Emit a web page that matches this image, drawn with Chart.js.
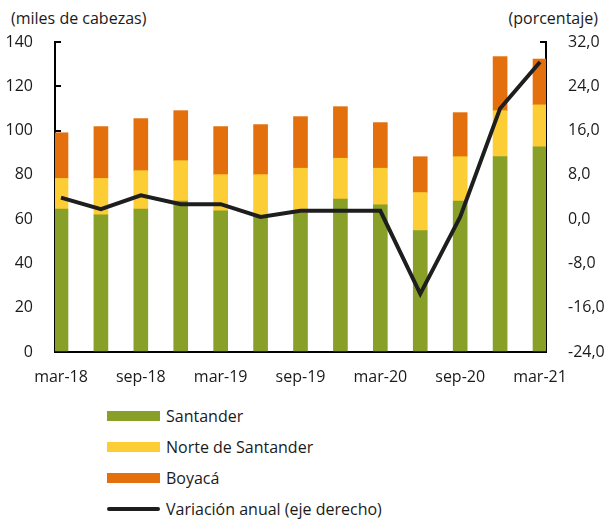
<!DOCTYPE html>
<html>
<head>
<meta charset="utf-8">
<script src="https://cdn.jsdelivr.net/npm/chart.js@4/dist/chart.umd.min.js"></script>
<style>
body{margin:0;background:#fff;font-family:"Open Sans",sans-serif;color:#1a1a1a;}
#wrap{position:relative;width:609px;height:519px;}
#caja{position:absolute;left:0;top:0;width:609px;height:395px;}
.unidad{position:absolute;top:8px;font-size:16px;line-height:20px;}
#leyenda{position:absolute;left:107px;top:400px;}
.item{height:31px;display:flex;align-items:center;font-size:16px;}
.muestra{width:53px;height:10px;margin-right:6px;}
.muestra.linea{height:4px;border-radius:2px;}
</style>
</head>
<body>
<div id="wrap">
  <div class="unidad" style="left:11px">(miles de cabezas)</div>
  <div class="unidad" style="right:11px">(porcentaje)</div>
  <div id="caja"><canvas id="grafico"></canvas></div>
  <div id="leyenda"></div>
</div>
<script>
/* datos (trimestres mar-18 a mar-21) */
const trimestres = ["mar-18","jun-18","sep-18","dic-18","mar-19","jun-19","sep-19","dic-19","mar-20","jun-20","sep-20","dic-20","mar-21"];
const santander = [64.6,61.9,64.6,68.2,63.8,61.1,62.9,69.1,66.5,54.8,68.2,88.2,92.7];
const norteSantander = [13.8,16.5,17.3,18.2,16.3,19.0,20.1,18.4,16.5,17.2,20.0,20.8,18.9];
const boyaca = [20.6,23.4,23.5,22.6,21.7,22.6,23.3,23.3,20.6,16.2,19.9,24.4,20.7];
const variacion = [3.9,1.8,4.3,2.7,2.7,0.4,1.5,1.5,1.5,-13.5,0.4,20.0,28.4];
const nombres = ["Santander","Norte de Santander","Boyacá","Variación anual (eje derecho)"];
const colores = ["#88a028","#fdcd35","#e4700d","#1e1e1e"];

const margen = 0.15;
const fuente = {family:"Open Sans", size:16};
const tinta = "#1a1a1a";

function puntos(arr){
  return arr.map(function(v,i){ return {x:i, y:v}; });
}

/* leyenda */
const leyenda = document.getElementById("leyenda");
nombres.forEach(function(n,i){
  const fila = document.createElement("div");
  fila.className = "item";
  const m = document.createElement("div");
  m.className = "muestra" + (i === 3 ? " linea" : "");
  m.style.background = colores[i];
  fila.appendChild(m);
  fila.appendChild(document.createTextNode(n));
  leyenda.appendChild(fila);
});

const ejeY = {
  grid:{drawOnChartArea:false, drawTicks:true, tickLength:-6, lineWidth:2, color:"#000"},
  border:{display:true, color:"#000", width:2}
};

new Chart(document.getElementById("grafico"),{

type:"bar",

data:{
datasets:[
{label:nombres[0], data:puntos(santander), backgroundColor:colores[0], order:1},
{label:nombres[1], data:puntos(norteSantander), backgroundColor:colores[1], order:1},
{label:nombres[2], data:puntos(boyaca), backgroundColor:colores[2], order:1},
{type:"line", label:nombres[3], data:puntos(variacion), yAxisID:"y2",
 borderColor:colores[3], borderWidth:4, pointRadius:0, tension:0, order:0}
]
},

options:{
responsive:true,
maintainAspectRatio:false,
animation:false,
layout:{padding:{top:42,left:0,right:0,bottom:0}},
plugins:{legend:{display:false}, tooltip:{enabled:false}},
datasets:{bar:{barThickness:14}},

scales:{

x:{
type:"linear", stacked:true, min:-margen, max:trimestres.length-1+margen, offset:false,
grid:{offset:false, drawOnChartArea:false, drawTicks:true, tickLength:-7, lineWidth:2,
  color:function(c){ return c.tick && c.tick.marca ? "#000" : "rgba(0,0,0,0)"; }},
border:{display:true, color:"#000", width:2},
ticks:{autoSkip:false, maxRotation:0, minRotation:0, padding:23, color:tinta, font:fuente,
  callback:function(v,i,t){ return t[i].texto || ""; }},
afterBuildTicks:function(s){
  const t = [];
  for(let i=0;i<trimestres.length;i+=2){
    t.push({value:i-margen, marca:true});
    t.push({value:i, texto:trimestres[i]});
  }
  s.ticks = t;
},
afterFit:function(s){ s.height = 43; }
},

y:Object.assign({}, ejeY, {
position:"left", stacked:true, min:0, max:140,
ticks:{stepSize:20, padding:28, color:tinta, font:fuente},
afterFit:function(s){ s.width = 55; }
}),

y2:Object.assign({}, ejeY, {
position:"right", min:-24, max:32,
ticks:{stepSize:8, padding:28, color:tinta, font:fuente,
  callback:function(v){ return v.toFixed(1).replace(".", ","); }},
afterFit:function(s){ s.width = 63; }
})

}
}

});
</script>
</body>
</html>
